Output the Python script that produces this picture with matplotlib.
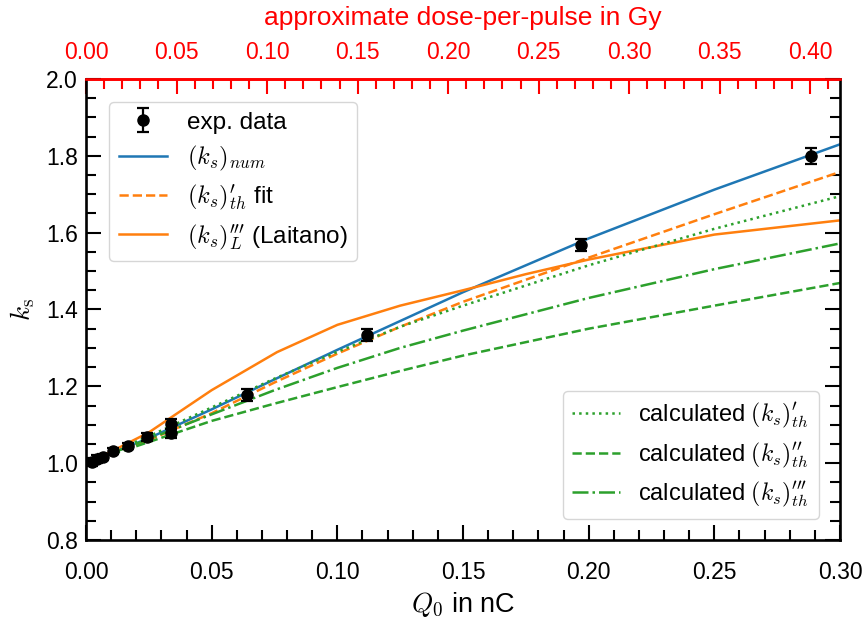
import matplotlib
matplotlib.use("Agg")
import matplotlib.pyplot as plt
from matplotlib.ticker import MultipleLocator, FixedLocator, FormatStrFormatter

plt.rcParams['font.family'] = ['Liberation Sans', 'DejaVu Sans']
plt.rcParams['mathtext.fontset'] = 'cm'
plt.rcParams['font.size'] = 16.5

# experimental data
q_exp = [0.0025, 0.0045, 0.0068, 0.0107, 0.0167, 0.0243, 0.0338, 0.0338, 0.0641, 0.1118, 0.197, 0.2885]
ks_exp = [1.003, 1.010, 1.017, 1.031, 1.044, 1.068, 1.102, 1.078, 1.177, 1.333, 1.568, 1.800]
ks_err = [0.01, 0.01, 0.008, 0.008, 0.008, 0.01, 0.012, 0.012, 0.015, 0.016, 0.016, 0.02]

# model curves
q_mod = [0.0, 0.025, 0.05, 0.075, 0.1, 0.125, 0.15, 0.2, 0.25, 0.3]
ks_num = [1.0, 1.065, 1.14, 1.218, 1.295, 1.37, 1.445, 1.585, 1.712, 1.83]
ks_fit = [1.0, 1.06, 1.13, 1.21, 1.285, 1.355, 1.42, 1.535, 1.648, 1.758]
ks_dot = [1.0, 1.07, 1.145, 1.22, 1.29, 1.355, 1.41, 1.515, 1.61, 1.695]
ks_dash = [1.0, 1.055, 1.11, 1.155, 1.198, 1.24, 1.28, 1.35, 1.41, 1.469]
ks_dashdot = [1.0, 1.063, 1.127, 1.19, 1.248, 1.3, 1.345, 1.43, 1.505, 1.572]

q_lai = [0.0, 0.01, 0.025, 0.05, 0.076, 0.1, 0.125, 0.15, 0.175, 0.2, 0.25, 0.3]
ks_lai = [1.0, 1.03, 1.08, 1.19, 1.289, 1.36, 1.41, 1.45, 1.492, 1.53, 1.595, 1.632]

# top axis ticks (dose in Gy)
dose_ticks = [0.0, 0.05, 0.1, 0.15, 0.2, 0.25, 0.3, 0.35, 0.4]
dose_per_nc = 1.388

fig = plt.figure(figsize=(8.66, 6.26), dpi=100)
ax = fig.add_axes([0.0993, 0.1374, 0.8707, 0.7364])

l_exp = ax.errorbar(q_exp, ks_exp, yerr=ks_err, fmt='o', color='black', ms=8,
                    capsize=4, elinewidth=1.6, capthick=1.6, zorder=5)
l_num, = ax.plot(q_mod, ks_num, color='#1f77b4', lw=1.8)
l_fit, = ax.plot(q_mod, ks_fit, color='#ff7f0e', lw=1.8, ls='--')
l_lai, = ax.plot(q_lai, ks_lai, color='#ff7f0e', lw=1.8)
l_dot, = ax.plot(q_mod, ks_dot, color='#2ca02c', lw=1.8, ls=':')
l_dash, = ax.plot(q_mod, ks_dash, color='#2ca02c', lw=1.8, ls='--')
l_dd, = ax.plot(q_mod, ks_dashdot, color='#2ca02c', lw=1.8, ls='-.')

ax.set_xlim(0, 0.3)
ax.set_ylim(0.8, 2.0)
ax.xaxis.set_major_locator(MultipleLocator(0.05))
ax.xaxis.set_minor_locator(MultipleLocator(0.01))
ax.yaxis.set_major_locator(MultipleLocator(0.2))
ax.yaxis.set_minor_locator(MultipleLocator(0.05))
ax.xaxis.set_major_formatter(FormatStrFormatter('%.2f'))
ax.yaxis.set_major_formatter(FormatStrFormatter('%.1f'))
ax.tick_params(which='both', direction='in', left=True, right=True, bottom=True, top=False, width=1.5)
ax.tick_params(which='major', length=11)
ax.tick_params(which='minor', length=7)
ax.tick_params(axis='x', which='major', pad=15)
ax.tick_params(axis='y', which='major', pad=6)
for s in ax.spines.values():
    s.set_linewidth(1.9)
ax.spines['top'].set_color('red')

ax.set_xlabel(r'$Q_0$ in nC', fontsize=19.5, labelpad=5)
ax.set_ylabel(r'$k_\mathrm{s}$', fontsize=19.5, labelpad=6)

top = ax.secondary_xaxis('top', functions=(lambda q: q * dose_per_nc, lambda d: d / dose_per_nc))
top.xaxis.set_major_locator(FixedLocator(dose_ticks))
top.xaxis.set_minor_locator(MultipleLocator(0.01))
top.xaxis.set_major_formatter(FormatStrFormatter('%.2f'))
top.tick_params(which='both', direction='in', colors='red', width=1.5)
top.tick_params(which='major', length=11, pad=11)
top.tick_params(which='minor', length=7)
top.spines['top'].set_color('red')
top.spines['top'].set_linewidth(1.9)
top.set_xlabel('approximate dose-per-pulse in Gy', color='red', fontsize=19, labelpad=11)

leg1 = ax.legend([l_exp, l_num, l_fit, l_lai],
                 ['exp. data', r'$(k_s)_{num}$', r"$(k_s)_{th}'$ fit", r"$(k_s)_{L}'''$ (Laitano)"],
                 loc='upper left', borderaxespad=0.95, fontsize=17.5, labelspacing=0.4)
ax.add_artist(leg1)
ax.legend([l_dot, l_dash, l_dd],
          [r"calculated $(k_s)_{th}'$", r"calculated $(k_s)_{th}''$", r"calculated $(k_s)_{th}'''$"],
          loc='lower right', borderaxespad=0.9, fontsize=17, labelspacing=0.45)

fig.savefig('out.png', dpi=100)
